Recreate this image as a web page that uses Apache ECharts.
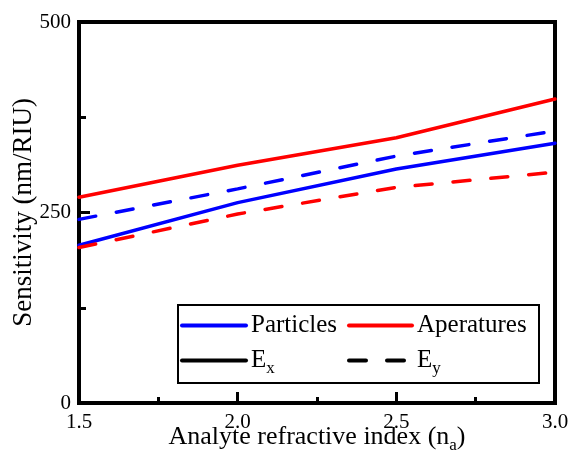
<!DOCTYPE html>
<html>
<head>
<meta charset="utf-8">
<script src="https://cdn.jsdelivr.net/npm/echarts@6/dist/echarts.min.js"></script>
<style>
  html, body { margin: 0; padding: 0; background: #fff; }
  #chart { width: 570px; height: 455px; }
</style>
</head>
<body>
<div id="chart"></div>
<script>
// analyte refractive index (x) and sensitivity values (nm/RIU)
const indexValues = [1.5, 2.0, 2.5, 3.0]
const particlesEx = [207, 263, 307, 341]
const aperturesEx = [270, 312, 348, 399]
const particlesEy = [241, 281, 324, 357]
const aperturesEy = [204, 248, 283, 303]

const FONT = 'Liberation Serif'
const BLUE = '#0000ff'
const RED = '#ff0000'
const DASH = [17, 21]

function pairs (ys) {
  return indexValues.map((x, i) => [x, ys[i]])
}

function lineSeries (name, ys, color, dashed) {
  return {
    name: name,
    type: 'line',
    data: ys ? pairs(ys) : [],
    showSymbol: false,
    symbol: 'none',
    lineStyle: { color: color, width: 3.5, type: dashed ? DASH : 'solid', cap: 'round' },
    itemStyle: { color: color }
  }
}

const chart = echarts.init(document.getElementById('chart'))

const legendText = {
  fontFamily: FONT,
  fontSize: 25,
  color: '#000',
  rich: {
    sub: { fontFamily: FONT, fontSize: 17, padding: [16, 0, 0, 0] }
  }
}

const legendBase = {
  top: 313,
  padding: 0,
  orient: 'vertical',
  itemHeight: 25,
  itemGap: 10,
  itemStyle: { opacity: 0 },
  lineStyle: { width: 4 },
  textStyle: legendText
}

const option = {
  animation: false,
  grid: {
    left: 79,
    right: 15,
    top: 22,
    bottom: 52,
    outerBoundsMode: 'none',
    containLabel: false,
    show: true,
    borderColor: '#000',
    borderWidth: 4
  },
  legend: [Object.assign({}, legendBase, {
    left: 180,
    itemWidth: 64,
    data: ['Particles', 'Ex'],
    formatter: n => n === 'Ex' ? 'E{sub|x}' : n
  }), Object.assign({}, legendBase, {
    left: 347,
    itemWidth: 63,
    data: ['Aperatures', 'Ey'],
    formatter: n => n === 'Ey' ? 'E{sub|y}' : n
  })],
  graphic: [{
    type: 'rect',
    shape: { x: 178, y: 305, width: 361, height: 78 },
    style: { fill: 'none', stroke: '#000', lineWidth: 2 },
    z: 10
  }],
  xAxis: {
    type: 'value',
    min: 1.5,
    max: 3.0,
    interval: 0.5,
    name: 'Analyte refractive index (n{sub|a})',
    nameLocation: 'middle',
    nameMoveOverlap: false,
    nameGap: 18,
    nameTextStyle: {
      fontFamily: FONT,
      fontSize: 26,
      color: '#000',
      rich: { sub: { fontFamily: FONT, fontSize: 17, padding: [16, 0, 0, 0] } }
    },
    axisLine: { lineStyle: { color: '#000', width: 4 } },
    axisTick: { inside: true, length: 11, lineStyle: { color: '#000', width: 3 } },
    minorTick: { show: true, splitNumber: 2, length: 6, lineStyle: { color: '#000', width: 3 } },
    axisLabel: {
      fontFamily: FONT,
      fontSize: 21,
      color: '#000',
      margin: 9,
      formatter: v => v.toFixed(1)
    },
    splitLine: { show: false }
  },
  yAxis: {
    type: 'value',
    min: 0,
    max: 500,
    interval: 250,
    name: 'Sensitivity (nm/RIU)',
    nameLocation: 'middle',
    nameMoveOverlap: false,
    nameGap: 42,
    nameTextStyle: { fontFamily: FONT, fontSize: 27, color: '#000' },
    axisLine: { show: true, lineStyle: { color: '#000', width: 4 } },
    axisTick: { show: true, inside: true, length: 11, lineStyle: { color: '#000', width: 3 } },
    minorTick: { show: true, splitNumber: 2, length: 7, lineStyle: { color: '#000', width: 3 } },
    axisLabel: { fontFamily: FONT, fontSize: 21, color: '#000', margin: 8 },
    splitLine: { show: false }
  },
  series: [
    lineSeries('Particles Ex', particlesEx, BLUE, false),
    lineSeries('Aperatures Ex', aperturesEx, RED, false),
    lineSeries('Particles Ey', particlesEy, BLUE, true),
    lineSeries('Aperatures Ey', aperturesEy, RED, true),
    // legend-only entries
    lineSeries('Particles', null, BLUE, false),
    lineSeries('Aperatures', null, RED, false),
    lineSeries('Ex', null, '#000', false),
    lineSeries('Ey', null, '#000', true)
  ]
}

chart.setOption(option)
</script>
</body>
</html>
